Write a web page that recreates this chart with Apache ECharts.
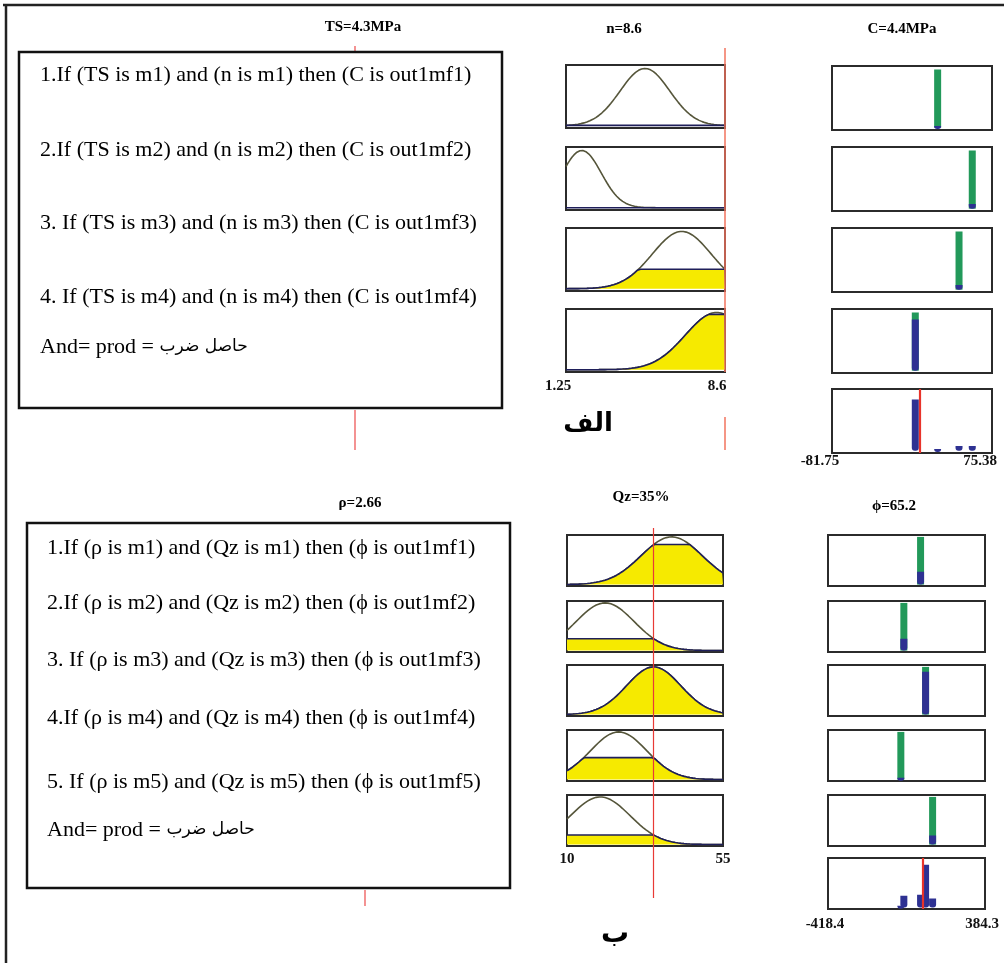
<!DOCTYPE html>
<html><head><meta charset="utf-8">
<script src="https://cdn.jsdelivr.net/npm/echarts@6/dist/echarts.min.js"></script>
<style>html,body{margin:0;padding:0;background:#fff}#c{width:1004px;height:963px}</style>
</head><body><div id="c"></div><script>
// ---------- DATA ----------
// Panel (الف)
const tsValue = 4.3;
const nRange = [1.25, 8.6];
const nValue = 8.6;
const nMfCenters = [4.9, 1.98, 6.6, 8.22];
const nMfSigmas = [1.15, 0.9, 1.36, 1.45];
const nTickLabels = ['1.25', '8.6'];
const cRange = [-81.75, 75.38];
const cValue = 4.4;
const cRuleOutputs = [22.0, 56.0, 43.0, 0.05];
const cRuleStrengths = [0.03, 0.08, 0.08, 0.88];
const cTickLabels = ['-81.75', '75.38'];
const topRules = [
  '1.If (TS is m1) and (n is m1) then (C is out1mf1)',
  '2.If (TS is m2) and (n is m2) then (C is out1mf2)',
  '3. If (TS is m3) and (n is m3) then (C is out1mf3)',
  '4. If (TS is m4) and (n is m4) then (C is out1mf4)'
];
const andLabel = ['And= prod = ', 'حاصل ضرب'];
// Panel (ب)
const rhoValue = 2.66;
const qzRange = [10, 55];
const qzValue = 35;
const qzMfCenters = [40.2, 21.0, 35.0, 24.9, 19.6];
const qzMfSigmas = [8.8, 8.4, 7.8, 8.1, 8.6];
const qzTickLabels = ['10', '55'];
const phiRange = [-418.4, 384.3];
const phiValue = 65.2;
const phiRuleOutputs = [54.9, -30.6, 80.5, -46.0, 116.4];
const phiRuleStrengths = [0.27, 0.25, 0.9, 0.04, 0.19];
const phiTickLabels = ['-418.4', '384.3'];
const bottomRules = [
  '1.If (ρ is m1) and (Qz is m1) then (ϕ is out1mf1)',
  '2.If (ρ is m2) and (Qz is m2) then (ϕ is out1mf2)',
  '3. If (ρ is m3) and (Qz is m3) then (ϕ is out1mf3)',
  '4.If (ρ is m4) and (Qz is m4) then (ϕ is out1mf4)',
  '5. If (ρ is m5) and (Qz is m5) then (ϕ is out1mf5)'
];
const titles = ['TS=4.3MPa', 'n=8.6', 'C=4.4MPa', 'ρ=2.66', 'Qz=35%', 'ϕ=65.2'];
const panelNames = ['الف', 'ب'];

// ---------- STYLE / LAYOUT ----------
const serif = "'Liberation Serif','Times New Roman','DejaVu Sans',serif";
const C_CURVE = '#55553a', C_CLIP = '#1f1f5a', C_YELLOW = '#f6ea00';
const C_GREEN = '#22995a', C_BLUE = '#2e3192', C_RED = '#e8332a';
const grids = [], xAxes = [], yAxes = [], series = [];

function addGrid(rect, xr, yr, border, label) {
  const i = grids.length;
  grids.push({left: rect.left, top: rect.top, width: rect.width, height: rect.height,
    show: border, borderColor: '#2b2b2b', borderWidth: 2, backgroundColor: 'transparent',
    containLabel: false, outerBoundsMode: 'none'});
  const xa = {gridIndex: i, type: 'value', min: xr[0], max: xr[1], show: !!label,
    axisLine: {show: false}, axisTick: {show: false}, splitLine: {show: false}, axisLabel: {show: false}};
  if (label) {
    xa.axisLabel = {show: true, customValues: xr.slice(), margin: label.margin, hideOverlap: false,
      showMinLabel: true, showMaxLabel: true,
      formatter: v => '{a|' + (v === xr[0] ? label.texts[0] : label.texts[1]) + '}',
      rich: {a: {fontFamily: serif, fontWeight: 'bold', fontSize: 15, color: '#111',
        padding: [0, label.shift * 2, 0, 0]}}};
  }
  xAxes.push(xa);
  yAxes.push({gridIndex: i, type: 'value', min: yr[0], max: yr[1], show: false, splitLine: {show: false}});
  return i;
}
function gauss(x, c, s) { return Math.exp(-((x - c) * (x - c)) / (2 * s * s)); }
function inputPanel(rect, xr, yr, c, s, v, label) {
  const i = addGrid(rect, xr, yr, true, label);
  const deg = gauss(v, c, s);
  const N = 160, full = [], clip = [];
  for (let k = 0; k <= N; k++) {
    const x = xr[0] + (xr[1] - xr[0]) * k / N;
    const m = gauss(x, c, s);
    full.push([x, m]); clip.push([x, Math.min(m, deg)]);
  }
  series.push({type: 'line', xAxisIndex: i, yAxisIndex: i, data: full, showSymbol: false, silent: true,
    lineStyle: {color: C_CURVE, width: 1.6}, z: 2});
  series.push({type: 'line', xAxisIndex: i, yAxisIndex: i, data: clip, showSymbol: false, silent: true,
    lineStyle: {color: C_CLIP, width: 1.6}, areaStyle: {color: C_YELLOW, opacity: 1, origin: 'auto'}, z: 3});
}
function barRender(color, w) {
  return function (params, api) {
    const x = api.value(0), h = api.value(1);
    const p0 = api.coord([x, 0]), p1 = api.coord([x, h]);
    return {type: 'rect', shape: {x: p0[0] - w / 2, y: p1[1], width: w, height: Math.max(p0[1] - p1[1], 3), r: [0, 0, 3, 3]},
      style: {fill: color}};
  };
}
function outputPanel(rect, xr, yr, outs, strengths, showGreen, redValue, label) {
  const i = addGrid(rect, xr, yr, true, label);
  if (showGreen) {
    series.push({type: 'custom', xAxisIndex: i, yAxisIndex: i, silent: true, z: 3,
      data: outs.map(o => [o, 1]), renderItem: function (p, api) {
        const x = api.value(0), p0 = api.coord([x, 0]), p1 = api.coord([x, 1]);
        return {type: 'rect', shape: {x: p0[0] - 3.5, y: p1[1], width: 7, height: p0[1] - p1[1]}, style: {fill: C_GREEN}};
      }});
  }
  series.push({type: 'custom', xAxisIndex: i, yAxisIndex: i, silent: true, z: 4,
    data: outs.map((o, k) => [o, strengths[k]]), renderItem: barRender(C_BLUE, 7)});
  if (redValue !== null) {
    series.push({type: 'line', xAxisIndex: i, yAxisIndex: i, data: [], z: 5, silent: true,
      markLine: {silent: true, symbol: 'none', label: {show: false}, animation: false,
        lineStyle: {color: C_RED, width: 2.2, type: 'solid'}, data: [{xAxis: redValue}]}});
  }
}
function redLine(rect, xr, v, color, width) {
  const i = addGrid(rect, xr, [0, 1], false, null);
  series.push({type: 'line', xAxisIndex: i, yAxisIndex: i, data: [], z: 6, silent: true,
    markLine: {silent: true, symbol: 'none', label: {show: false}, animation: false,
      lineStyle: {color: color, width: width, type: 'solid'}, data: [{xAxis: v}]}});
}

// ---- top (الف) ----
const topInTops = [65, 147, 228, 309];
nMfCenters.forEach((c, k) => inputPanel({left: 566, top: topInTops[k], width: 159, height: 63}, nRange, [-0.04, 1.06],
  c, nMfSigmas[k], nValue, k === nMfCenters.length - 1 ? {texts: nTickLabels, margin: 7, shift: 8} : null));
const topOutTops = [66, 147, 228, 309];
cRuleOutputs.forEach((o, k) => outputPanel({left: 832, top: topOutTops[k], width: 160, height: 64}, cRange, [-0.04, 1.06],
  [o], [cRuleStrengths[k]], true, null, null));
outputPanel({left: 832, top: 389, width: 160, height: 64}, cRange, [-0.04, 1.06], cRuleOutputs, cRuleStrengths, false, cValue,
  {texts: cTickLabels, margin: 1, shift: 12});
redLine({left: 566, top: 48, width: 159, height: 324}, nRange, nValue, '#f2735e', 1.5);
redLine({left: 566, top: 417, width: 159, height: 33}, nRange, nValue, '#f2735e', 1.5);

// ---- bottom (ب) ----
const botInTops = [535, 601, 665, 730, 795];
qzMfCenters.forEach((c, k) => inputPanel({left: 567, top: botInTops[k], width: 156, height: 51}, qzRange, [-0.03, 1.04],
  c, qzMfSigmas[k], qzValue, k === qzMfCenters.length - 1 ? {texts: qzTickLabels, margin: 6, shift: 0} : null));
const botOutTops = [535, 601, 665, 730, 795];
phiRuleOutputs.forEach((o, k) => outputPanel({left: 828, top: botOutTops[k], width: 157, height: 51}, phiRange, [-0.03, 1.04],
  [o], [phiRuleStrengths[k]], true, null, null));
outputPanel({left: 828, top: 858, width: 157, height: 51}, phiRange, [-0.03, 1.04], phiRuleOutputs, phiRuleStrengths, false, phiValue,
  {texts: phiTickLabels, margin: 8, shift: 3});
redLine({left: 567, top: 528, width: 156, height: 370}, qzRange, qzValue, '#e83a36', 1.2);

// ---------- graphic (frame, rule boxes, texts) ----------
const gr = [];
function txt(x, y, text, size, weight, align) {
  gr.push({type: 'text', x: x, y: y, z: 10, silent: true,
    style: {text: text, fontFamily: serif, fontSize: size, fontWeight: weight || 'normal', fill: '#000',
      align: align || 'center', verticalAlign: 'middle'}});
}
function andTxt(x, y) {
  gr.push({type: 'text', x: x, y: y, z: 10, silent: true,
    style: {text: andLabel[0] + '{ar|' + andLabel[1] + '}', fontFamily: serif, fontSize: 22, fill: '#000',
      align: 'left', verticalAlign: 'middle',
      rich: {ar: {fontFamily: "'DejaVu Sans','Noto Sans',sans-serif", fontSize: 17, fill: '#000'}}}});
}
gr.push({type: 'line', shape: {x1: 3, y1: 5, x2: 1004, y2: 5}, style: {stroke: '#222', lineWidth: 2.5}});
gr.push({type: 'line', shape: {x1: 6, y1: 5, x2: 6, y2: 963}, style: {stroke: '#222', lineWidth: 2.5}});
// red stubs of hidden TS / rho columns
gr.push({type: 'line', shape: {x1: 355, y1: 46, x2: 355, y2: 52}, style: {stroke: '#ec4a4a', lineWidth: 1.2}});
gr.push({type: 'line', shape: {x1: 355, y1: 410, x2: 355, y2: 450}, style: {stroke: '#ec4a4a', lineWidth: 1.2}});
gr.push({type: 'line', shape: {x1: 365, y1: 890, x2: 365, y2: 906}, style: {stroke: '#ec4a4a', lineWidth: 1.2}});
gr.push({type: 'rect', z: 8, shape: {x: 19, y: 52, width: 483, height: 356}, style: {fill: '#fff', stroke: '#111', lineWidth: 2.5}});
gr.push({type: 'rect', z: 8, shape: {x: 27, y: 523, width: 483, height: 365}, style: {fill: '#fff', stroke: '#111', lineWidth: 2.5}});
const topRuleY = [75, 150, 223, 297];
topRules.forEach((t, k) => txt(40, topRuleY[k], t, 22, 'normal', 'left'));
andTxt(40, 347);
const botRuleY = [548, 603, 660, 718, 782];
bottomRules.forEach((t, k) => txt(47, botRuleY[k], t, 22, 'normal', 'left'));
andTxt(47, 830);
txt(363, 27, titles[0], 15, 'bold');
txt(624, 29, titles[1], 15, 'bold');
txt(902, 29, titles[2], 15, 'bold');
txt(360, 503, titles[3], 15, 'bold');
txt(641, 497, titles[4], 15, 'bold');
txt(894, 506, titles[5], 15, 'bold');
txt(588, 424, panelNames[0], 26, 'bold');
txt(615, 935, panelNames[1], 28, 'bold');

const chart = echarts.init(document.getElementById('c'), null, {renderer: 'canvas', width: 1004, height: 963});
chart.setOption({
  backgroundColor: '#ffffff',
  animation: false,
  grid: grids, xAxis: xAxes, yAxis: yAxes, series: series, graphic: gr
});
</script></body></html>
